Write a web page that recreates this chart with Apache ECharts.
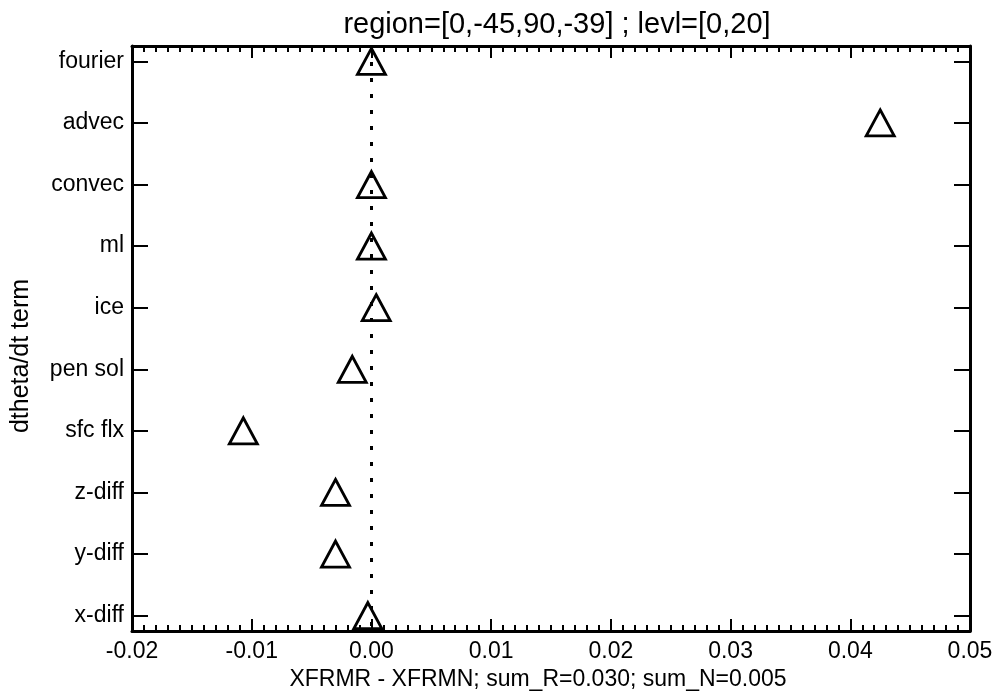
<!DOCTYPE html>
<html>
<head>
<meta charset="utf-8">
<script src="https://cdn.jsdelivr.net/npm/echarts@6/dist/echarts.min.js"></script>
<style>html,body{margin:0;padding:0;background:#fff}#c{width:999px;height:691px}</style>
</head>
<body>
<div id="c"></div>
<script>
const categories = ["fourier","advec","convec","ml","ice","pen sol","sfc flx","z-diff","y-diff","x-diff"];
const values = [0.0000, 0.0425, 0.0000, 0.0000, 0.0004, -0.0016, -0.0107, -0.0030, -0.0030, -0.0003];
const xTicks = [-0.02, -0.01, 0.00, 0.01, 0.02, 0.03, 0.04, 0.05];
const titleText = "region=[0,-45,90,-39] ; levl=[0,20]";
const xName = "XFRMR - XFRMN; sum_R=0.030; sum_N=0.005";
const yName = "dtheta/dt term";

const font = "'Liberation Sans', Arial, Helvetica, sans-serif";
const catIdx = categories.map((_, i) => i);
const chart = echarts.init(document.getElementById('c'), null, {renderer: 'canvas'});
const xCommon = {
  type: 'value', min: -0.02, max: 0.05, interval: 0.01,
  axisLine: {show: true, onZero: false, lineStyle: {color: '#000', width: 3}},
  axisTick: {show: true, inside: true, length: 12, lineStyle: {color: '#000', width: 2}},
  minorTick: {show: true, splitNumber: 10, length: 6, lineStyle: {color: '#000', width: 2}},
  splitLine: {show: false}
};
const yCommon = {
  type: 'value', min: -0.25, max: 9.25, inverse: true,
  axisLine: {show: true, onZero: false, lineStyle: {color: '#000', width: 3}},
  axisTick: {show: true, inside: true, length: 16, customValues: catIdx, lineStyle: {color: '#000', width: 2}},
  splitLine: {show: false}
};
chart.setOption({
  animation: false,
  backgroundColor: '#fff',
  title: {text: titleText, left: 552, textAlign: 'center', top: 5,
    textStyle: {fontFamily: font, fontSize: 29, fontWeight: 'normal', color: '#000'}},
  grid: {left: 132, right: 29, top: 46, bottom: 60, containLabel: false, outerBoundsMode: 'none'},
  xAxis: [
    Object.assign({}, xCommon, {position: 'bottom', name: xName, nameLocation: 'middle', nameGap: 34,
      nameTextStyle: {fontFamily: font, fontSize: 23, color: '#000', verticalAlign: 'top', padding: [0, 26, 0, 0]},
      axisLabel: {show: true, margin: 9, fontFamily: font, fontSize: 23, color: '#000',
        formatter: v => { const t = xTicks.find(x => Math.abs(x - v) < 1e-9); return (t !== undefined ? t : v).toFixed(2); }}}),
    Object.assign({}, xCommon, {position: 'top', axisLabel: {show: false}})
  ],
  yAxis: [
    Object.assign({}, yCommon, {position: 'left',
      axisLabel: {show: true, customValues: catIdx, margin: 8, fontFamily: font, fontSize: 23, color: '#000',
        formatter: v => categories[Math.round(v)] || ''}}),
    Object.assign({}, yCommon, {position: 'right', axisLabel: {show: false}})
  ],
  graphic: [{
    type: 'text', x: 21, y: 356, rotation: Math.PI / 2,
    style: {text: yName, fontFamily: font, fontSize: 25, fill: '#000', align: 'center', verticalAlign: 'middle'}
  }],
  series: [{
    type: 'scatter',
    xAxisIndex: 0, yAxisIndex: 0,
    symbol: 'triangle', symbolSize: [28, 26],
    itemStyle: {color: 'rgba(0,0,0,0)', borderColor: '#000', borderWidth: 2.8, opacity: 1},
    data: values.map((v, i) => [v, i]),
    markLine: {
      silent: true, symbol: 'none', label: {show: false},
      lineStyle: {color: '#000', width: 3, type: [4, 12], opacity: 1},
      data: [{xAxis: 0}]
    },
    z: 3
  }]
});
</script>
</body>
</html>
